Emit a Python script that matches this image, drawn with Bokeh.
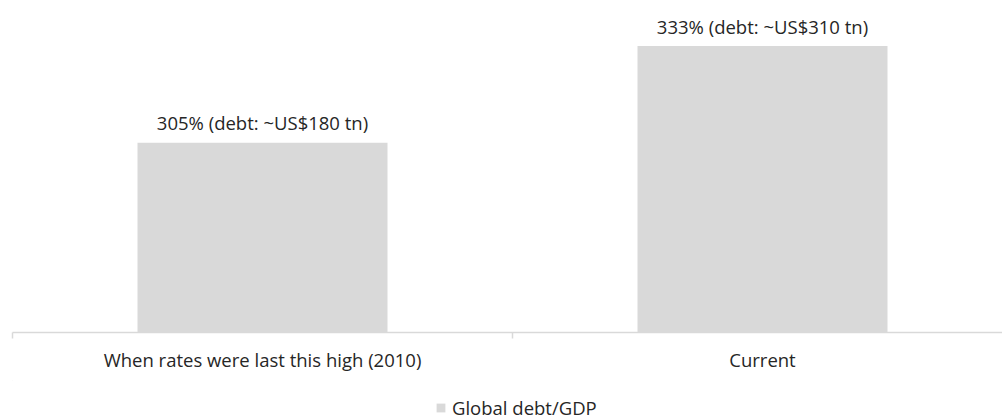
from bokeh.plotting import figure
from bokeh.layouts import column
from bokeh.models import Range1d, FixedTicker, Legend, LegendItem, ColumnDataSource
from bokeh.core.properties import value
from bokeh.embed import file_html
from bokeh.resources import INLINE

# Data
categories = ["When rates were last this high (2010)", "Current"]
debt_to_gdp = [305, 333]          # global debt as % of GDP
debt_usd_tn = [180, 310]          # approximate global debt, US$ trillion
series_name = "Global debt/GDP"

FONT = "Open Sans"
FONT_SIZE = "18.5px"
TEXT_COLOR = "#262626"
BAR_COLOR = "#d9d9d9"
AXIS_COLOR = "#d9d9d9"
Y_BASE = 250

xs = [i + 0.5 for i in range(len(categories))]
labels = [f"{v}% (debt: ~US${d} tn)" for v, d in zip(debt_to_gdp, debt_usd_tn)]
src = ColumnDataSource(dict(x=xs, top=debt_to_gdp, label=labels))

# Main chart
p = figure(
    width=1002, height=380,
    output_backend="svg", toolbar_location=None,
    x_range=Range1d(0, 1.98), y_range=Range1d(Y_BASE, 343.3),
    min_border_left=12, min_border_right=0,
    min_border_top=10, min_border_bottom=48,
)
p.outline_line_color = None
p.xgrid.visible = False
p.ygrid.visible = False
p.yaxis.visible = False

bar_style = dict(x="x", top="top", bottom=Y_BASE, width=0.5, source=src,
                 fill_color=BAR_COLOR, line_color=None)
p.vbar(**bar_style)

p.text(x="x", y="top", text="label", source=src,
       text_align="center", text_baseline="alphabetic", y_offset=-20,
       text_font=value(FONT), text_font_size=FONT_SIZE, text_color=TEXT_COLOR)

# Category axis: names at bar centres, boundary ticks between categories
xa = p.xaxis[0]
xa.ticker = FixedTicker(ticks=xs, minor_ticks=list(range(len(categories) + 1)))
xa.major_label_overrides = {x: c for x, c in zip(xs, categories)}
xa.major_tick_line_color = None
xa.major_tick_out = 0
xa.major_tick_in = 0
xa.minor_tick_in = 0
xa.minor_tick_out = 6
xa.minor_tick_line_color = AXIS_COLOR
xa.minor_tick_line_width = 1.5
xa.axis_line_color = AXIS_COLOR
xa.axis_line_width = 1.5
xa.major_label_standoff = 8
xa.major_label_text_font = FONT
xa.major_label_text_font_size = FONT_SIZE
xa.major_label_text_color = TEXT_COLOR

# Legend strip underneath; its key renderer lies well outside the strip's view
lg = figure(
    width=1002, height=40,
    output_backend="svg", toolbar_location=None,
    x_range=Range1d(100, 101.98), y_range=Range1d(0, 1),
    min_border_left=0, min_border_right=0,
    min_border_top=0, min_border_bottom=0,
)
lg.outline_line_color = None
lg.axis.visible = False
lg.grid.visible = False
key = lg.vbar(**bar_style)

legend = Legend(
    items=[LegendItem(label=series_name, renderers=[key])],
    location=(423, 0), orientation="horizontal",
    border_line_color=None, background_fill_alpha=0,
    padding=0, margin=0, glyph_width=11, glyph_height=11,
    label_standoff=6, label_text_font=FONT, label_text_font_size=FONT_SIZE,
    label_text_color=TEXT_COLOR,
)
lg.add_layout(legend)

layout = column(p, lg, spacing=0)
open("out.html", "w").write(file_html(layout, INLINE))
